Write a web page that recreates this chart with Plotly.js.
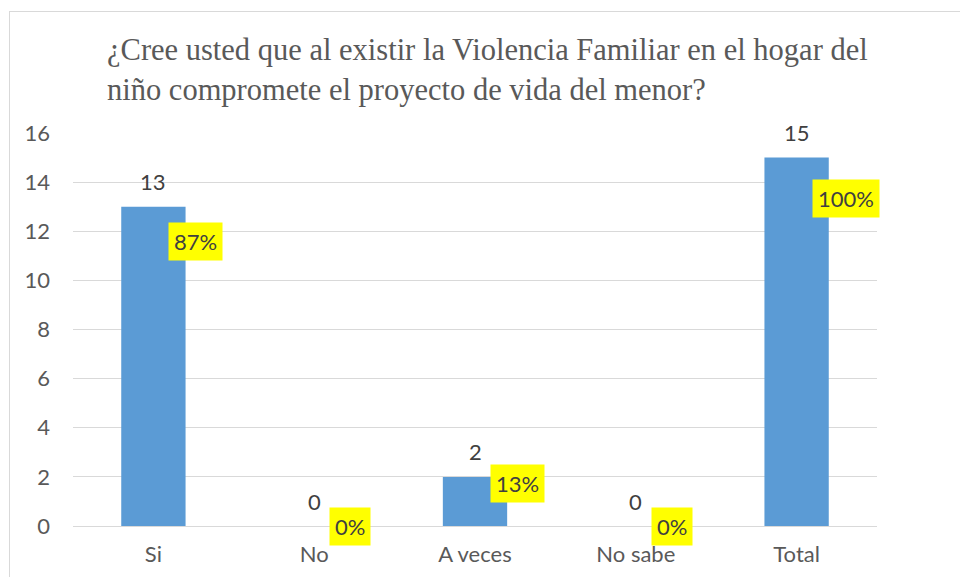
<!DOCTYPE html>
<html>
<head>
<meta charset="utf-8">
<script src="https://cdn.plot.ly/plotly-3.0.1.min.js"></script>
<style>
html,body{margin:0;padding:0;background:#fff;}
#wrap{position:relative;width:960px;height:577px;overflow:hidden;}
#chart{position:absolute;left:0;top:0;width:960px;height:577px;}
#frame{position:absolute;left:9px;top:11px;width:1000px;height:700px;border:1px solid #d9d9d9;pointer-events:none;}
</style>
</head>
<body>
<div id="wrap"><div id="chart"></div><div id="frame"></div></div>
<script>
const categories = ["Si", "No", "A veces", "No sabe", "Total"];
const counts = [13, 0, 2, 0, 15];
const shares = [0.87, 0, 0.13, 0, 1.00];
const shareLabels = ["87%", "0%", "13%", "0%", "100%"];
const yTicks = [0, 2, 4, 6, 8, 10, 12, 14, 16];

const txtColor = "#595959";
const sans = "Lato";

const trace = {
  type: "bar",
  x: categories,
  y: counts,
  marker: {color: "#5B9BD5"},
  hoverinfo: "x+y"
};

const annotations = [];
categories.forEach((c, i) => {
  annotations.push({
    x: c, y: counts[i], xref: "x", yref: "y",
    text: String(counts[i]), showarrow: false,
    xanchor: "center", yanchor: "middle", yshift: 25,
    font: {family: sans, size: 22, color: "#404040"}
  });
  annotations.push({
    x: c, y: shares[i], xref: "x", yref: "y2",
    text: shareLabels[i], showarrow: false,
    xanchor: "left", yanchor: "middle", xshift: 15,
    bgcolor: "#FFFF00", borderpad: 5,
    font: {family: sans, size: 22, color: "#404040"}
  });
});

const layout = {
  width: 960, height: 577,
  margin: {l: 73, r: 83, t: 133, b: 51},
  paper_bgcolor: "#fff", plot_bgcolor: "#fff",
  showlegend: false,
  bargap: 0.6,
  title: {
    text: "¿Cree usted que al existir la Violencia Familiar en el hogar del<br>niño compromete el proyecto de vida del menor?",
    font: {family: "Liberation Serif", size: 30.5, color: txtColor},
    x: 107/960, xanchor: "left", xref: "container",
    y: 1 - 60/577, yanchor: "top", yref: "container", automargin: false
  },
  xaxis: {
    type: "category", automargin: false, range: [-0.5, categories.length - 0.5],
    showgrid: false, zeroline: false, showline: false,
    ticks: "", tickfont: {family: sans, size: 22, color: txtColor},
    ticklabelstandoff: 13
  },
  yaxis: {
    range: [0, 16], tickvals: yTicks, ticktext: yTicks.map(String), automargin: false,
    showgrid: true, gridcolor: "#D9D9D9", gridwidth: 1,
    zeroline: true, zerolinecolor: "#D9D9D9", zerolinewidth: 1,
    showline: false, ticks: "",
    tickfont: {family: sans, size: 22, color: txtColor},
    ticklabelstandoff: 22
  },
  yaxis2: {
    range: [0, 1.2], overlaying: "y", side: "right", visible: false, automargin: false
  },
  annotations: annotations
};

Plotly.newPlot("chart", [trace, {type: "scatter", x: categories, y: shares, yaxis: "y2", mode: "none", hoverinfo: "skip"}], layout, {displayModeBar: false, staticPlot: true});
</script>
</body>
</html>
